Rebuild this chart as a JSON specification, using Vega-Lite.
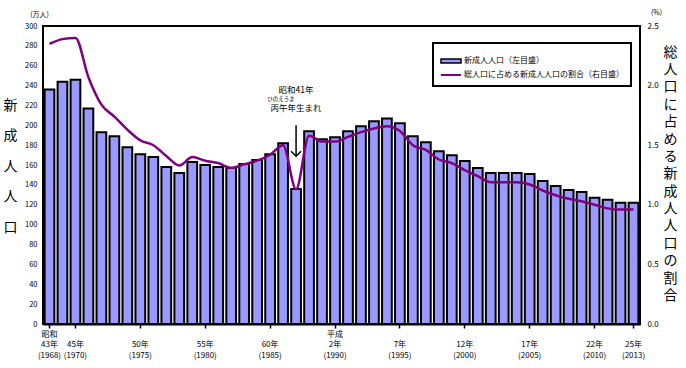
{
  "$schema": "https://vega.github.io/schema/vega-lite/v6.json",
  "width": 597,
  "height": 298,
  "autosize": {"type": "none"},
  "padding": {"left": 43, "top": 26, "right": 46, "bottom": 44},
  "background": "white",
  "data": {"values": [
    {"year": 1968, "pop": 236, "ratio": 2.35},
    {"year": 1969, "pop": 244, "ratio": 2.39},
    {"year": 1970, "pop": 246, "ratio": 2.40},
    {"year": 1971, "pop": 217, "ratio": 2.07},
    {"year": 1972, "pop": 193, "ratio": 1.84},
    {"year": 1973, "pop": 189, "ratio": 1.74},
    {"year": 1974, "pop": 178, "ratio": 1.63},
    {"year": 1975, "pop": 171, "ratio": 1.54},
    {"year": 1976, "pop": 168, "ratio": 1.50},
    {"year": 1977, "pop": 158, "ratio": 1.41},
    {"year": 1978, "pop": 152, "ratio": 1.33},
    {"year": 1979, "pop": 163, "ratio": 1.40},
    {"year": 1980, "pop": 160, "ratio": 1.37},
    {"year": 1981, "pop": 158, "ratio": 1.35},
    {"year": 1982, "pop": 157, "ratio": 1.31},
    {"year": 1983, "pop": 161, "ratio": 1.34},
    {"year": 1984, "pop": 165, "ratio": 1.37},
    {"year": 1985, "pop": 171, "ratio": 1.42},
    {"year": 1986, "pop": 182, "ratio": 1.50},
    {"year": 1987, "pop": 136, "ratio": 1.13},
    {"year": 1988, "pop": 194, "ratio": 1.58},
    {"year": 1989, "pop": 186, "ratio": 1.53},
    {"year": 1990, "pop": 188, "ratio": 1.53},
    {"year": 1991, "pop": 194, "ratio": 1.57},
    {"year": 1992, "pop": 199, "ratio": 1.61},
    {"year": 1993, "pop": 204, "ratio": 1.64},
    {"year": 1994, "pop": 207, "ratio": 1.66},
    {"year": 1995, "pop": 202, "ratio": 1.62},
    {"year": 1996, "pop": 189, "ratio": 1.50},
    {"year": 1997, "pop": 183, "ratio": 1.46},
    {"year": 1998, "pop": 174, "ratio": 1.38},
    {"year": 1999, "pop": 170, "ratio": 1.35},
    {"year": 2000, "pop": 164, "ratio": 1.29},
    {"year": 2001, "pop": 157, "ratio": 1.24},
    {"year": 2002, "pop": 152, "ratio": 1.19},
    {"year": 2003, "pop": 152, "ratio": 1.19},
    {"year": 2004, "pop": 152, "ratio": 1.19},
    {"year": 2005, "pop": 151, "ratio": 1.17},
    {"year": 2006, "pop": 144, "ratio": 1.12},
    {"year": 2007, "pop": 139, "ratio": 1.08},
    {"year": 2008, "pop": 135, "ratio": 1.05},
    {"year": 2009, "pop": 133, "ratio": 1.03},
    {"year": 2010, "pop": 127, "ratio": 1.00},
    {"year": 2011, "pop": 125, "ratio": 0.97},
    {"year": 2012, "pop": 122, "ratio": 0.96},
    {"year": 2013, "pop": 122, "ratio": 0.96}
  ]},
  "config": {
    "view": {"stroke": "black", "strokeWidth": 2},
    "font": "Noto Sans CJK JP",
    "axis": {"grid": false, "labelFont": "Noto Sans CJK JP", "labelFontSize": 8, "labelColor": "black", "domainColor": "black", "tickColor": "black", "titleFont": "Noto Sans CJK JP", "titleColor": "black", "titleFontWeight": "normal", "labelOverlap": false},
    "legend": {"strokeWidth": 2, "labelFont": "Noto Sans CJK JP", "labelFontSize": 8, "labelColor": "black", "titleFont": "Noto Sans CJK JP"},
    "text": {"font": "Noto Sans CJK JP", "color": "black"}
  },
  "layer": [
    {
      "mark": {"type": "bar", "stroke": "black", "strokeWidth": 2},
      "encoding": {
        "x": {
          "field": "year", "type": "ordinal",
          "scale": {"paddingInner": 0.25, "paddingOuter": 0.125},
          "axis": {
            "title": null, "labelAngle": 0,
            "values": [1968, 1970, 1975, 1980, 1985, 1990, 1995, 2000, 2005, 2010, 2013],
            "labelExpr": "datum.value == 1968 ? ['昭和','43年','(1968)'] : datum.value == 1970 ? [' ','45年','(1970)'] : datum.value == 1975 ? [' ','50年','(1975)'] : datum.value == 1980 ? [' ','55年','(1980)'] : datum.value == 1985 ? [' ','60年','(1985)'] : datum.value == 1990 ? ['平成','2年','(1990)'] : datum.value == 1995 ? [' ','7年','(1995)'] : datum.value == 2000 ? [' ','12年','(2000)'] : datum.value == 2005 ? [' ','17年','(2005)'] : datum.value == 2010 ? [' ','22年','(2010)'] : [' ','25年','(2013)']",
            "labelBaseline": "top", "labelLineHeight": 10.5, "labelPadding": 2,
            "tickSize": 4, "tickWidth": 1.5, "domainWidth": 2
          }
        },
        "y": {
          "field": "pop", "type": "quantitative",
          "scale": {"domain": [0, 300]},
          "axis": {
            "values": [0, 20, 40, 60, 80, 100, 120, 140, 160, 180, 200, 220, 240, 260, 280, 300],
            "labelOverlap": false,
            "ticks": false, "domain": false, "labelPadding": 6, "labelFontSize": 7.5,
            "title": ["新", "成", "人", "人", "口"],
            "titleAngle": 0, "titleFontSize": 14, "titleLineHeight": 30.5,
            "titleX": -33, "titleY": 72, "titleBaseline": "top", "titleAlign": "center"
          }
        },
        "color": {
          "datum": "新成人人口（左目盛）",
          "scale": {"domain": ["新成人人口（左目盛）"], "range": ["#9999ff"]},
          "legend": {
            "orient": "none", "legendX": 390, "legendY": 17, "title": null,
            "padding": 7, "labelLimit": 300, "labelOffset": 2,
            "symbolType": "M-1,-0.2H1V0.2H-1Z", "symbolSize": 400,
            "symbolStrokeColor": "black", "symbolStrokeWidth": 1.5, "symbolOpacity": 1
          }
        }
      }
    },
    {
      "layer": [
        {
          "mark": {"type": "line", "interpolate": "monotone", "strokeWidth": 2.5},
          "encoding": {
            "x": {"field": "year", "type": "ordinal"},
            "y": {
              "field": "ratio", "type": "quantitative",
              "scale": {"domain": [0, 2.5]},
              "axis": {
                "orient": "right", "values": [0, 0.5, 1, 1.5, 2, 2.5], "format": ".1f",
                "ticks": false, "domain": false, "labelPadding": 7,
                "title": ["総", "人", "口", "に", "占", "め", "る", "新", "成", "人", "人", "口", "の", "割", "合"],
                "titleAngle": 0, "titleFontSize": 14, "titleLineHeight": 17.4,
                "titleX": 30, "titleY": 19, "titleBaseline": "top", "titleAlign": "center"
              }
            },
            "color": {
              "datum": "総人口に占める新成人人口の割合（右目盛）",
              "scale": {"domain": ["総人口に占める新成人人口の割合（右目盛）"], "range": ["#800080"]},
              "legend": {
                "orient": "none", "legendX": 390, "legendY": 17,
                "title": "　", "titleFontSize": 9, "titlePadding": 5,
                "padding": 7, "labelLimit": 300, "labelOffset": 2,
                "strokeColor": "black",
                "symbolType": "stroke", "symbolSize": 400, "symbolStrokeWidth": 2
              }
            }
          }
        },
        {
          "data": {"values": [{}]},
          "mark": {"type": "text", "fontSize": 7, "baseline": "middle", "dx": 23},
          "encoding": {"x": {"datum": 2013, "type": "ordinal"}, "y": {"datum": 2.605, "type": "quantitative", "scale": {"domain": [0, 2.5]}}, "text": {"value": "(%)"}}
        },
        {
          "data": {"values": [{}]},
          "mark": {"type": "text", "fontSize": 7, "baseline": "middle", "dx": -10},
          "encoding": {"x": {"datum": 1968, "type": "ordinal"}, "y": {"datum": 2.592, "type": "quantitative", "scale": {"domain": [0, 2.5]}}, "text": {"value": "(万人)"}}
        },
        {
          "data": {"values": [{}]},
          "mark": {"type": "text", "fontSize": 8.5, "baseline": "middle"},
          "encoding": {"x": {"datum": 1987, "type": "ordinal"}, "y": {"datum": 1.963, "type": "quantitative", "scale": {"domain": [0, 2.5]}}, "text": {"value": "昭和41年"}}
        },
        {
          "data": {"values": [{}]},
          "mark": {"type": "text", "fontSize": 5.5, "baseline": "middle", "dx": -15},
          "encoding": {"x": {"datum": 1987, "type": "ordinal"}, "y": {"datum": 1.8875, "type": "quantitative", "scale": {"domain": [0, 2.5]}}, "text": {"value": "ひのえうま"}}
        },
        {
          "data": {"values": [{}]},
          "mark": {"type": "text", "fontSize": 8.5, "baseline": "middle"},
          "encoding": {"x": {"datum": 1987, "type": "ordinal"}, "y": {"datum": 1.808, "type": "quantitative", "scale": {"domain": [0, 2.5]}}, "text": {"value": "丙午年生まれ"}}
        },
        {
          "data": {"values": [{}]},
          "mark": {"type": "rule", "stroke": "black", "strokeWidth": 1.5},
          "encoding": {"x": {"datum": 1987, "type": "ordinal"}, "y": {"datum": 1.667, "type": "quantitative", "scale": {"domain": [0, 2.5]}}, "y2": {"datum": 1.408}}
        },
        {
          "data": {"values": [{}]},
          "mark": {"type": "point", "shape": "M-1,-1L0,0L1,-1", "size": 100, "filled": false, "stroke": "black", "strokeWidth": 1.5, "opacity": 1},
          "encoding": {"x": {"datum": 1987, "type": "ordinal"}, "y": {"datum": 1.408, "type": "quantitative", "scale": {"domain": [0, 2.5]}}}
        }
      ]
    }
  ],
  "resolve": {"scale": {"y": "independent", "color": "independent"}}
}
